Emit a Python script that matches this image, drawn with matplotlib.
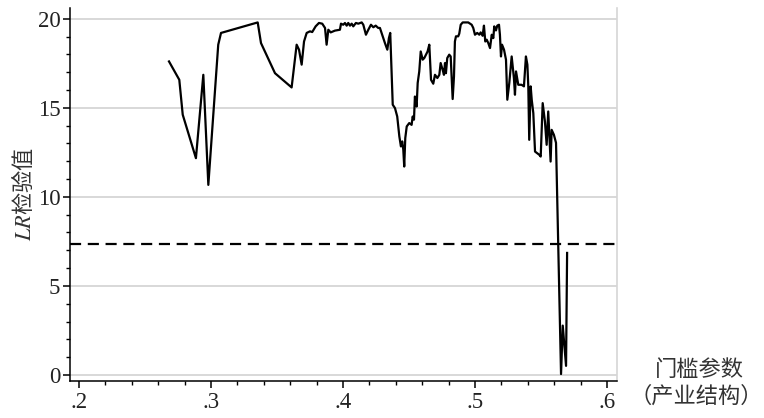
import matplotlib
matplotlib.use("Agg")
import matplotlib.pyplot as plt
from matplotlib.ticker import MultipleLocator, FixedLocator

plt.rcParams['font.family'] = ['Noto Sans CJK SC', 'DejaVu Sans']
plt.rcParams['mathtext.fontset'] = 'stix'

# threshold parameter (industrial structure) values
gamma = [0.2682, 0.2760, 0.2786, 0.2886, 0.2942, 0.2980, 0.3055, 0.3076, 0.3354, 0.3379,
         0.3485, 0.3611, 0.3649, 0.3667, 0.3687, 0.3705, 0.3725, 0.3750, 0.3767, 0.3793,
         0.3818, 0.3843, 0.3864, 0.3876, 0.3889, 0.3907, 0.3939, 0.3977, 0.3985, 0.4002,
         0.4015, 0.4028, 0.4040, 0.4053, 0.4066, 0.4078, 0.4098, 0.4116, 0.4142, 0.4154,
         0.4174, 0.4192, 0.4212, 0.4230, 0.4248, 0.4267, 0.4280, 0.4301, 0.4318, 0.4336,
         0.4348, 0.4358, 0.4377, 0.4394, 0.4411, 0.4427, 0.4439, 0.4449, 0.4457, 0.4464,
         0.4472, 0.4483, 0.4502, 0.4520, 0.4528, 0.4538, 0.4545, 0.4558, 0.4566, 0.4578,
         0.4589, 0.4604, 0.4616, 0.4629, 0.4641, 0.4654, 0.4667, 0.4684, 0.4697, 0.4715,
         0.4730, 0.4740, 0.4755, 0.4765, 0.4773, 0.4780, 0.4790, 0.4805, 0.4816, 0.4823,
         0.4831, 0.4841, 0.4848, 0.4856, 0.4873, 0.4881, 0.4892, 0.4907, 0.4949, 0.4975,
         0.4987, 0.5000, 0.5017, 0.5033, 0.5043, 0.5058, 0.5068, 0.5078, 0.5089, 0.5101,
         0.5114, 0.5127, 0.5139, 0.5146, 0.5159, 0.5169, 0.5182, 0.5189, 0.5197, 0.5205,
         0.5220, 0.5235, 0.5245, 0.5260, 0.5278, 0.5295, 0.5303, 0.5311, 0.5328, 0.5353,
         0.5371, 0.5386, 0.5397, 0.5404, 0.5411, 0.5422, 0.5430, 0.5442, 0.5455, 0.5487,
         0.5498, 0.5513, 0.5530, 0.5543, 0.5555, 0.5573, 0.5581, 0.5598, 0.5614, 0.5652,
         0.5665, 0.5690, 0.5698]

# LR statistic
lr = [17.60, 16.57, 14.61, 12.17, 16.85, 10.67, 18.54, 19.20, 19.79, 18.63,
      16.94, 16.14, 18.54, 18.26, 17.42, 18.72, 19.20, 19.29, 19.25, 19.57,
      19.76, 19.72, 19.48, 18.54, 19.38, 19.23, 19.33, 19.38, 19.72, 19.66,
      19.76, 19.61, 19.76, 19.61, 19.72, 19.57, 19.76, 19.72, 19.79, 19.66,
      19.10, 19.38, 19.66, 19.52, 19.61, 19.48, 19.48, 19.01, 18.63, 18.26,
      18.91, 19.20, 15.17, 14.98, 14.51, 13.39, 12.83, 13.11, 12.64, 11.70,
      13.30, 13.95, 14.14, 14.04, 14.51, 14.33, 15.63, 15.07, 16.39, 17.04,
      18.16, 17.70, 17.79, 17.98, 18.16, 18.54, 16.57, 16.35, 16.85, 16.67,
      16.85, 17.51, 17.13, 16.85, 17.51, 16.94, 17.79, 17.98, 17.88, 16.76,
      15.49, 16.76, 18.72, 19.01, 19.01, 19.16, 19.66, 19.79, 19.79, 19.66,
      19.48, 19.10, 19.20, 19.10, 19.23, 19.04, 19.61, 18.72, 18.82, 18.63,
      18.35, 19.10, 18.91, 19.57, 19.34, 19.61, 19.66, 19.10, 17.88, 18.54,
      18.26, 17.70, 15.45, 16.39, 17.88, 16.67, 15.73, 17.04, 16.29, 16.29,
      16.20, 17.88, 17.42, 16.20, 13.20, 16.20, 15.45, 14.70, 12.54, 12.36,
      12.26, 15.26, 14.23, 12.92, 14.79, 11.98, 13.76, 13.48, 13.03, 0.05,
      2.77, 0.51, 6.85]

critical_value = 7.35
x_ticks = [0.2, 0.3, 0.4, 0.5, 0.6]
x_ticklabels = ['.2', '.3', '.4', '.5', '.6']
y_ticks = [0, 5, 10, 15, 20]
y_ticklabels = ['0', '5', '10', '15', '20']

fig = plt.figure(figsize=(7.64, 4.18), dpi=100)
ax = fig.add_axes([70/764, 1-381/418, 547/764, 373/418])

for yv in y_ticks:
    ax.axhline(yv, color='#d6d6d6', lw=1.3, zorder=0)

ax.plot(gamma, lr, color='black', lw=1.6, zorder=3)
ax.axhline(critical_value, color='black', lw=1.6, ls=(0, (5, 3)), zorder=2)

ax.set_xlim(0.1932, 0.6076)
ax.set_ylim(-0.34, 20.6)

ax.spines['top'].set_visible(False)
ax.spines['right'].set_color('#d6d6d6')
ax.spines['right'].set_linewidth(1.2)
ax.spines['left'].set_linewidth(1.1)
ax.spines['bottom'].set_linewidth(1.1)

ax.xaxis.set_major_locator(FixedLocator(x_ticks))
ax.set_xticklabels(x_ticklabels)
ax.xaxis.set_minor_locator(MultipleLocator(0.02))
ax.yaxis.set_major_locator(FixedLocator(y_ticks))
ax.set_yticklabels(y_ticklabels)
ax.yaxis.set_minor_locator(MultipleLocator(1))

ax.tick_params(axis='x', which='major', length=5, width=1.1, direction='out',
               labelsize=16.5, pad=3, colors='black')
ax.tick_params(axis='y', which='major', length=5, width=1.1, direction='out',
               labelsize=16.5, pad=2, colors='black')
ax.tick_params(axis='both', which='minor', length=3, width=1.0, direction='out')
for lab in ax.get_xticklabels() + ax.get_yticklabels():
    lab.set_family(['Liberation Serif', 'DejaVu Serif'])
    lab.set_color('#222222')

ax.set_ylabel(r'$LR$检验值', fontsize=16, color='#333333')
ax.yaxis.set_label_coords(-0.062, 0.5)

fig.text(699/764, 1-370/418, '门槛参数', ha='center', va='center', fontsize=16, color='#333333')
fig.text(696/764, 1-396/418, '（产业结构）', ha='center', va='center', fontsize=16, color='#333333')

fig.savefig('out.png', dpi=100)
